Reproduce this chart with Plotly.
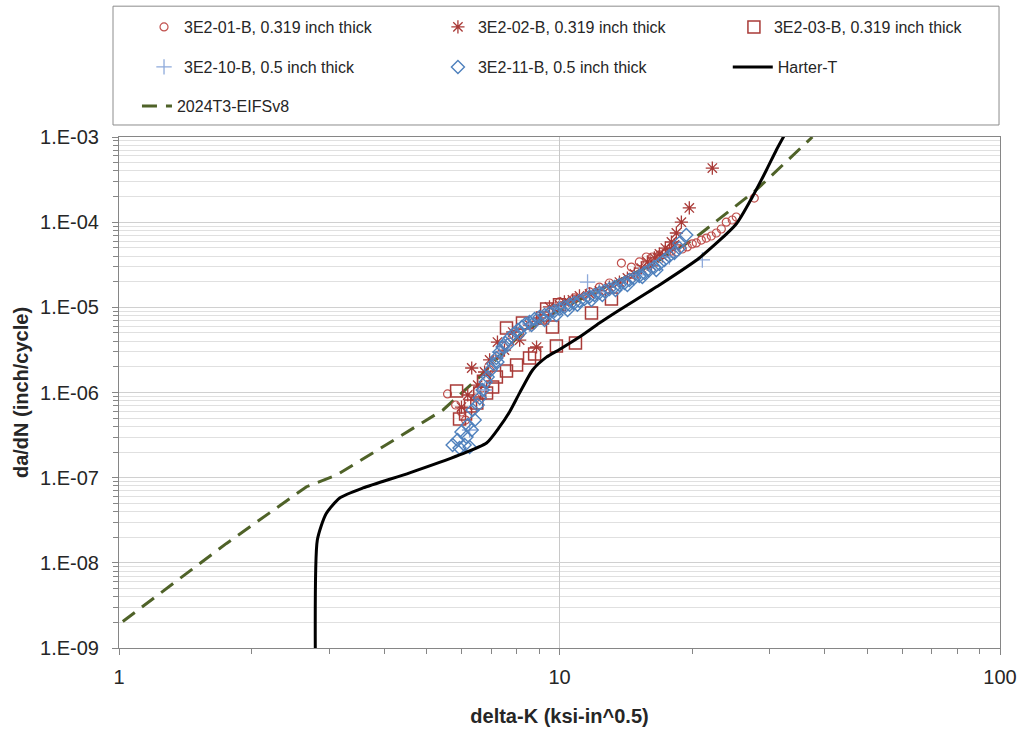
import plotly.graph_objects as go

# ---- crack growth test data: delta-K (ksi-in^0.5) vs da/dN (inch/cycle) ----
k_01 = [5.57, 5.81, 5.99, 6.12, 6.45, 6.66, 6.94, 7.31, 7.70, 8.12, 8.69, 9.25, 10.0, 10.81,
        11.7, 12.32, 12.98, 13.82, 14.56, 15.18, 15.74, 16.25, 16.86, 17.48, 17.95, 18.42,
        19.0, 19.5, 20.02, 20.44, 20.99, 21.54, 22.11, 22.7, 23.3, 23.91, 24.67, 25.19, 27.68]
dadn_01 = [9.61e-7, 7.13e-7, 5.90e-7, 4.75e-7, 8.62e-7, 1.13e-6, 1.84e-6, 2.76e-6, 3.91e-6,
           4.99e-6, 6.20e-6, 7.49e-6, 1.16e-5, 1.29e-5, 1.52e-5, 1.73e-5, 1.93e-5, 3.31e-5,
           2.97e-5, 3.41e-5, 3.90e-5, 3.90e-5, 4.12e-5, 4.35e-5, 4.58e-5, 4.46e-5, 4.84e-5,
           5.12e-5, 5.55e-5, 5.70e-5, 6.17e-5, 6.51e-5, 6.88e-5, 7.46e-5, 8.31e-5, 1.00e-4,
           1.06e-4, 1.15e-4, 1.92e-4]

k_02 = [5.99, 6.19, 6.32, 6.52, 6.76, 6.94, 7.23, 7.50, 7.83, 8.12, 8.87, 8.55, 9.01, 9.49,
        10.0, 10.26, 10.70, 11.1, 11.7, 12.32, 12.98, 13.68, 14.26, 14.79, 15.34, 15.83,
        16.17, 16.42, 16.86, 17.12, 17.39, 17.76, 17.95, 18.23, 18.42, 18.91, 19.71, 22.23]
dadn_02 = [6.75e-7, 9.35e-7, 1.94e-6, 1.22e-6, 1.74e-6, 2.41e-6, 3.91e-6, 3.15e-6, 5.13e-6,
           4.13e-6, 3.42e-6, 6.20e-6, 7.49e-6, 1.01e-5, 1.07e-5, 1.16e-5, 1.22e-5, 1.36e-5,
           1.44e-5, 1.56e-5, 1.73e-5, 1.98e-5, 2.21e-5, 2.47e-5, 2.89e-5, 3.41e-5, 3.06e-5,
           3.80e-5, 4.23e-5, 4.01e-5, 4.97e-5, 4.71e-5, 5.85e-5, 5.40e-5, 7.46e-5, 1.00e-4,
           1.47e-4, 4.32e-4]

k_03 = [5.84, 5.93, 6.12, 6.28, 6.49, 6.59, 6.83, 6.72, 7.05, 7.19, 7.58, 7.99, 7.58, 8.24,
        8.55, 8.78, 9.15, 9.35, 9.64, 9.84, 10.87, 10.0, 11.82, 13.12]
dadn_03 = [1.04e-6, 4.88e-7, 5.59e-7, 6.94e-7, 7.53e-7, 9.87e-7, 9.87e-7, 1.36e-6, 1.16e-6,
           1.52e-6, 1.79e-6, 2.10e-6, 5.72e-6, 6.54e-6, 2.54e-6, 2.84e-6, 7.49e-6, 9.57e-6,
           5.87e-6, 3.51e-6, 3.81e-6, 1.07e-5, 8.58e-6, 1.25e-5]

k_10 = [6.25, 6.76, 7.31, 8.55, 10.0, 11.58, 12.32, 15.18, 17.76, 21.1]
dadn_10 = [3.63e-7, 1.07e-6, 2.98e-6, 6.37e-6, 9.83e-6, 1.98e-5, 1.52e-5, 2.40e-5, 3.90e-5, 3.60e-5]

k_11 = [5.72, 5.87, 5.93, 6.09, 5.99, 6.15, 6.25, 6.32, 6.19, 6.42, 6.35, 6.52, 6.59, 6.69,
        6.80, 6.87, 6.98, 7.08, 7.19, 7.31, 7.43, 7.54, 7.70, 7.87, 8.04, 8.21, 8.37, 8.55,
        8.78, 9.01, 9.25, 9.49, 9.74, 10.0, 10.26, 10.54, 10.81, 11.1, 11.39, 11.7, 12.0,
        12.32, 12.65, 12.98, 13.33, 13.68, 14.04, 14.41, 14.79, 15.18, 15.58, 16.0, 16.42,
        16.86, 17.3, 17.76, 18.23, 18.71, 19.4,
        7.23, 7.62, 8.12, 8.64, 9.25, 9.84, 10.43, 10.98, 11.82, 12.51, 13.40, 14.26, 15.42,
        16.59, 18.71]
dadn_11 = [2.42e-7, 2.77e-7, 2.23e-7, 2.42e-7, 3.44e-7, 3.00e-7, 2.29e-7, 3.63e-7, 4.15e-7,
           4.75e-7, 6.23e-7, 7.13e-7, 8.62e-7, 1.07e-6, 1.33e-6, 1.52e-6, 1.84e-6, 2.16e-6,
           2.54e-6, 2.98e-6, 3.42e-6, 3.81e-6, 4.36e-6, 4.86e-6, 5.42e-6, 5.87e-6, 6.37e-6,
           6.73e-6, 7.29e-6, 7.70e-6, 8.13e-6, 8.58e-6, 9.06e-6, 9.57e-6, 1.01e-5, 1.07e-5,
           1.13e-5, 1.19e-5, 1.25e-5, 1.33e-5, 1.40e-5, 1.48e-5, 1.56e-5, 1.64e-5, 1.73e-5,
           1.83e-5, 1.93e-5, 2.09e-5, 2.21e-5, 2.34e-5, 2.53e-5, 2.74e-5, 2.97e-5, 3.23e-5,
           3.60e-5, 4.01e-5, 4.35e-5, 4.97e-5, 7.07e-5,
           2.28e-6, 3.61e-6, 4.99e-6, 6.20e-6, 7.10e-6, 8.13e-6, 9.31e-6, 1.07e-5, 1.22e-5,
           1.40e-5, 1.60e-5, 1.83e-5, 2.27e-5, 2.74e-5, 5.70e-5]

# ---- reference curves ----
k_harter = [2.79, 2.82, 2.95, 3.17, 3.58, 4.57, 5.93, 6.83, 7.31, 7.70, 8.12, 8.69, 9.34,
            10.0, 11.1, 12.32, 13.68, 16.86, 20.77, 25.19, 27.4, 29.5, 31.05, 32.4]
dadn_harter = [1.0e-9, 1.85e-8, 3.75e-8, 5.77e-8, 7.57e-8, 1.14e-7, 1.85e-7, 2.55e-7, 3.94e-7,
               5.9e-7, 9.9e-7, 1.84e-6, 2.6e-6, 3.2e-6, 4.48e-6, 6.54e-6, 9.31e-6, 1.83e-5,
               3.80e-5, 9.52e-5, 1.975e-4, 4.1e-4, 7.0e-4, 1.05e-3]

k_eifs = [1.02, 1.754, 2.665, 3.116, 5.44, 6.59, 8.12, 10.0, 12.32, 16.0, 20.03, 27.97, 37.5]
dadn_eifs = [2.05e-9, 1.69e-8, 7.83e-8, 1.07e-7, 6.24e-7, 1.53e-6, 4.73e-6, 9.31e-6, 1.60e-5,
             3.06e-5, 6.18e-5, 2.39e-4, 1.0e-3]

y_tickvals = [1e-9, 1e-8, 1e-7, 1e-6, 1e-5, 1e-4, 1e-3]
y_ticktext = ["1.E-09", "1.E-08", "1.E-07", "1.E-06", "1.E-05", "1.E-04", "1.E-03"]
x_tickvals = [1, 10, 100]
x_ticktext = ["1", "10", "100"]

FONT = "Liberation Sans, Arial, sans-serif"
TEXT = "#262626"
RED = "#C0504D"
RED_DARK = "#A93A37"
BLUE = "#4F81BD"
LIGHT_BLUE = "#8EAADB"

fig = go.Figure()

# the EIFS curve sits underneath the test points
fig.add_trace(go.Scatter(
    x=k_eifs, y=dadn_eifs, mode="lines", name="2024T3-EIFSv8", legend="legend7",
    line=dict(color="#4F6228", width=3, dash="15px,9px")))
fig.add_trace(go.Scatter(
    x=k_01, y=dadn_01, mode="markers", name="3E2-01-B, 0.319 inch thick", legend="legend",
    marker=dict(symbol="circle-open", size=8, color=RED, line=dict(width=1.2))))
fig.add_trace(go.Scatter(
    x=k_02, y=dadn_02, mode="markers", name="3E2-02-B, 0.319 inch thick", legend="legend2",
    marker=dict(symbol="asterisk-open", size=11, color=RED_DARK, line=dict(width=1.3, color=RED_DARK))))
fig.add_trace(go.Scatter(
    x=k_03, y=dadn_03, mode="markers", name="3E2-03-B, 0.319 inch thick", legend="legend3",
    marker=dict(symbol="square-open", size=12, color=RED_DARK, line=dict(width=1.5))))
fig.add_trace(go.Scatter(
    x=k_10, y=dadn_10, mode="markers", name="3E2-10-B, 0.5 inch thick", legend="legend4",
    marker=dict(symbol="cross-thin-open", size=11, color=LIGHT_BLUE, line=dict(width=1.3, color=LIGHT_BLUE))))
fig.add_trace(go.Scatter(
    x=k_11, y=dadn_11, mode="markers", name="3E2-11-B, 0.5 inch thick", legend="legend5",
    marker=dict(symbol="diamond-open", size=10, color=BLUE, line=dict(width=1.4))))
fig.add_trace(go.Scatter(
    x=k_harter, y=dadn_harter, mode="lines", name="Harter-T", legend="legend6",
    line=dict(color="black", width=3, shape="spline", smoothing=0.6)))


def legend_at(x, y, itemwidth=30):
    return dict(
        orientation="v", xref="paper", yref="paper", x=x, y=y,
        xanchor="left", yanchor="middle", itemwidth=itemwidth,
        bgcolor="rgba(0,0,0,0)", borderwidth=0,
        font=dict(family=FONT, size=16, color=TEXT),
    )


# legend rows sit above the plot; positions in paper units of the plot area
row1, row2, row3 = 1.2153, 1.137, 1.0607
col1, col2, col3 = 0.0284, 0.362, 0.698

fig.update_layout(
    width=1021, height=729,
    margin=dict(l=119, r=21, t=137, b=81, autoexpand=False),
    paper_bgcolor="white", plot_bgcolor="white",
    font=dict(family=FONT, color=TEXT),
    showlegend=True,
    legend=legend_at(col1, row1),
    legend2=legend_at(col2, row1),
    legend3=legend_at(col3, row1),
    legend4=legend_at(col1, row2),
    legend5=legend_at(col2, row2),
    legend6=legend_at(0.691, row2, itemwidth=40),
    legend7=legend_at(0.0204, row3),
    shapes=[dict(type="rect", xref="paper", yref="paper",
                 x0=-0.0068, x1=0.9989, y0=1.0235, y1=1.256,
                 line=dict(color="#8C8C8C", width=1), fillcolor="rgba(0,0,0,0)")],
)

fig.update_xaxes(
    type="log", range=[0, 2], automargin=False,
    tickmode="array", tickvals=x_tickvals, ticktext=x_ticktext,
    tickfont=dict(family=FONT, size=20, color=TEXT),
    ticks="outside", ticklen=6, tickcolor="#868686", ticklabelstandoff=5,
    showgrid=True, gridcolor="#C8C8C8", gridwidth=1,
    showline=True, linecolor="#868686", linewidth=1, mirror=True,
    zeroline=False,
    minor=dict(tickmode="array", tickvals=[2, 3, 4, 5, 6, 7, 8, 9, 20, 30, 40, 50, 60, 70, 80, 90],
               ticks="outside", ticklen=5, tickcolor="#868686", showgrid=False),
    title=dict(text="<b>delta-K (ksi-in^0.5)</b>", standoff=21,
               font=dict(family=FONT, size=20, color=TEXT)),
)

y_minor = [m * 10.0 ** e for e in range(-9, -3) for m in range(2, 10)]
fig.update_yaxes(
    type="log", range=[-9, -3], automargin=False,
    tickmode="array", tickvals=y_tickvals, ticktext=y_ticktext,
    tickfont=dict(family=FONT, size=20, color=TEXT),
    ticks="outside", ticklen=6, tickcolor="#868686", ticklabelstandoff=9,
    showgrid=True, gridcolor="#D0D0D0", gridwidth=1,
    showline=True, linecolor="#868686", linewidth=1, mirror=True,
    zeroline=False,
    minor=dict(tickmode="array", tickvals=y_minor, ticks="outside", ticklen=5,
               tickcolor="#868686", showgrid=True, gridcolor="#E0E0E0", gridwidth=1),
    title=dict(text="<b>da/dN (inch/cycle)</b>", standoff=6,
               font=dict(family=FONT, size=20, color=TEXT)),
)

fig.write_html("out.html")
